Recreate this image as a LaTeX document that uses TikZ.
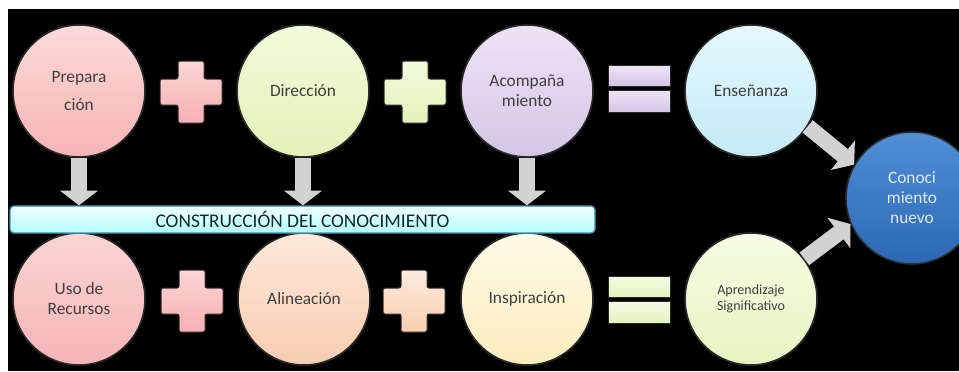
\documentclass[tikz,border=0pt]{standalone}
\usepackage{fontspec}
\setmainfont{Carlito}
\usetikzlibrary{arrows.meta}

\definecolor{textogris}{HTML}{3F3F3F}
\definecolor{flechagris}{HTML}{D2D2D2}
\definecolor{bordebola}{HTML}{2A2A2A}

\tikzset{
	bola/.style={circle, minimum size=99pt, inner sep=0pt, draw=bordebola, line width=1.2pt,
		align=center, text=textogris, font=\fontsize{13}{15}\selectfont},
	flecha/.style={draw=flechagris, line width=12pt, -{Triangle[width=28pt,length=11pt]}},
	banda/.style={rectangle, rounded corners=3pt, minimum width=438.75pt, minimum height=20.25pt,
		draw=cyan!70!black, line width=1pt, top color=cyan!6, bottom color=cyan!30,
		text=textogris!80!cyan!40!black, font=\fontsize{14.5}{16}\selectfont},
	mas/.pic={
		\path[pic actions, rounded corners=1.5pt] (-13,-31) -- (13,-31) -- (13,-13) -- (31,-13) -- (31,13) -- (13,13)
			-- (13,31) -- (-13,31) -- (-13,13) -- (-31,13) -- (-31,-13) -- (-13,-13) -- cycle;},
	igual/.pic={
		\path[pic actions] (-31,-23.5) rectangle (31,-1.5);
		\path[pic actions] (-31,2.5) rectangle (31,23.5);}
}
\tikzset{every picture/.style={line width=0.75pt}}

\begin{document}
\begin{tikzpicture}[x=0.75pt,y=0.75pt,yscale=-1,xscale=1]
	\clip (0,0) rectangle (959,371);
	%Background
	\fill[white] (0,0) rectangle (959,371);
	\fill[black] (8,9) rectangle (959,371);

	%Shape: Circles top row
	\node[bola, top color={rgb,255:red,252;green,218;blue,218}, bottom color={rgb,255:red,246;green,180;blue,180}] (prep) at (79,91) {Prepara\\[6pt]ción};
	\node[bola, top color={rgb,255:red,242;green,250;blue,218}, bottom color={rgb,255:red,226;green,242;blue,186}] (dire) at (303,91) {Dirección};
	\node[bola, top color={rgb,255:red,236;green,228;blue,245}, bottom color={rgb,255:red,212;green,198;blue,230}] (acom) at (527,91) {Acompaña\\miento};
	\node[bola, top color={rgb,255:red,228;green,248;blue,253}, bottom color={rgb,255:red,196;green,234;blue,246}] (ense) at (751,91) {Enseñanza};

	%Shape: Circles bottom row
	\node[bola, top color={rgb,255:red,251;green,212;blue,212}, bottom color={rgb,255:red,245;green,180;blue,182}] (recu) at (79,299) {Uso de\\Recursos};
	\node[bola, top color={rgb,255:red,253;green,232;blue,218}, bottom color={rgb,255:red,248;green,204;blue,176}] (alin) at (304,299) {Alineación};
	\node[bola, top color={rgb,255:red,254;green,250;blue,230}, bottom color={rgb,255:red,251;green,236;blue,190}] (insp) at (527,299) {Inspiración};
	\node[bola, top color={rgb,255:red,246;green,251;blue,226}, bottom color={rgb,255:red,230;green,244;blue,194}, font=\fontsize{10.5}{12.5}\selectfont] (apre) at (751,299) {Aprendizaje\\Significativo};

	%Shape: Circle result
	\node[bola, top color={rgb,255:red,80;green,142;blue,214}, bottom color={rgb,255:red,44;green,104;blue,180}, text={rgb,255:red,226;green,232;blue,244}] (cono) at (912,198) {Conoci\\miento\\nuevo};

	%Shape: Banner
	\node[banda] (cons) at (302.5,219.5) {CONSTRUCCIÓN DEL CONOCIMIENTO};

	%Shape: Plus and equals signs
	\pic[top color={rgb,255:red,252;green,214;blue,214}, bottom color={rgb,255:red,246;green,176;blue,178}, draw=bordebola] at (191,92) {mas};
	\pic[top color={rgb,255:red,244;green,250;blue,222}, bottom color={rgb,255:red,226;green,242;blue,186}, draw=bordebola] at (415,92) {mas};
	\pic[top color={rgb,255:red,238;green,230;blue,246}, bottom color={rgb,255:red,210;green,196;blue,230}, draw=bordebola] at (639,88.5) {igual};
	\pic[top color={rgb,255:red,252;green,214;blue,214}, bottom color={rgb,255:red,246;green,176;blue,178}, draw=bordebola] at (192,301) {mas};
	\pic[top color={rgb,255:red,254;green,236;blue,222}, bottom color={rgb,255:red,248;green,206;blue,176}, draw=bordebola] at (414,301) {mas};
	\pic[top color={rgb,255:red,246;green,251;blue,228}, bottom color={rgb,255:red,226;green,242;blue,190}, draw=bordebola] at (639,299.5) {igual};

	%Straight Lines: block arrows
	\draw[flecha] (prep.south) -- (prep.south |- cons.north);
	\draw[flecha] (dire.south) -- (dire.south |- cons.north);
	\draw[flecha] (acom.south) -- (acom.south |- cons.north);
	\draw[flecha] (ense.-32) -- (cono.150);
	\draw[flecha] (apre.37) -- (cono.203);

\end{tikzpicture}
\end{document}
